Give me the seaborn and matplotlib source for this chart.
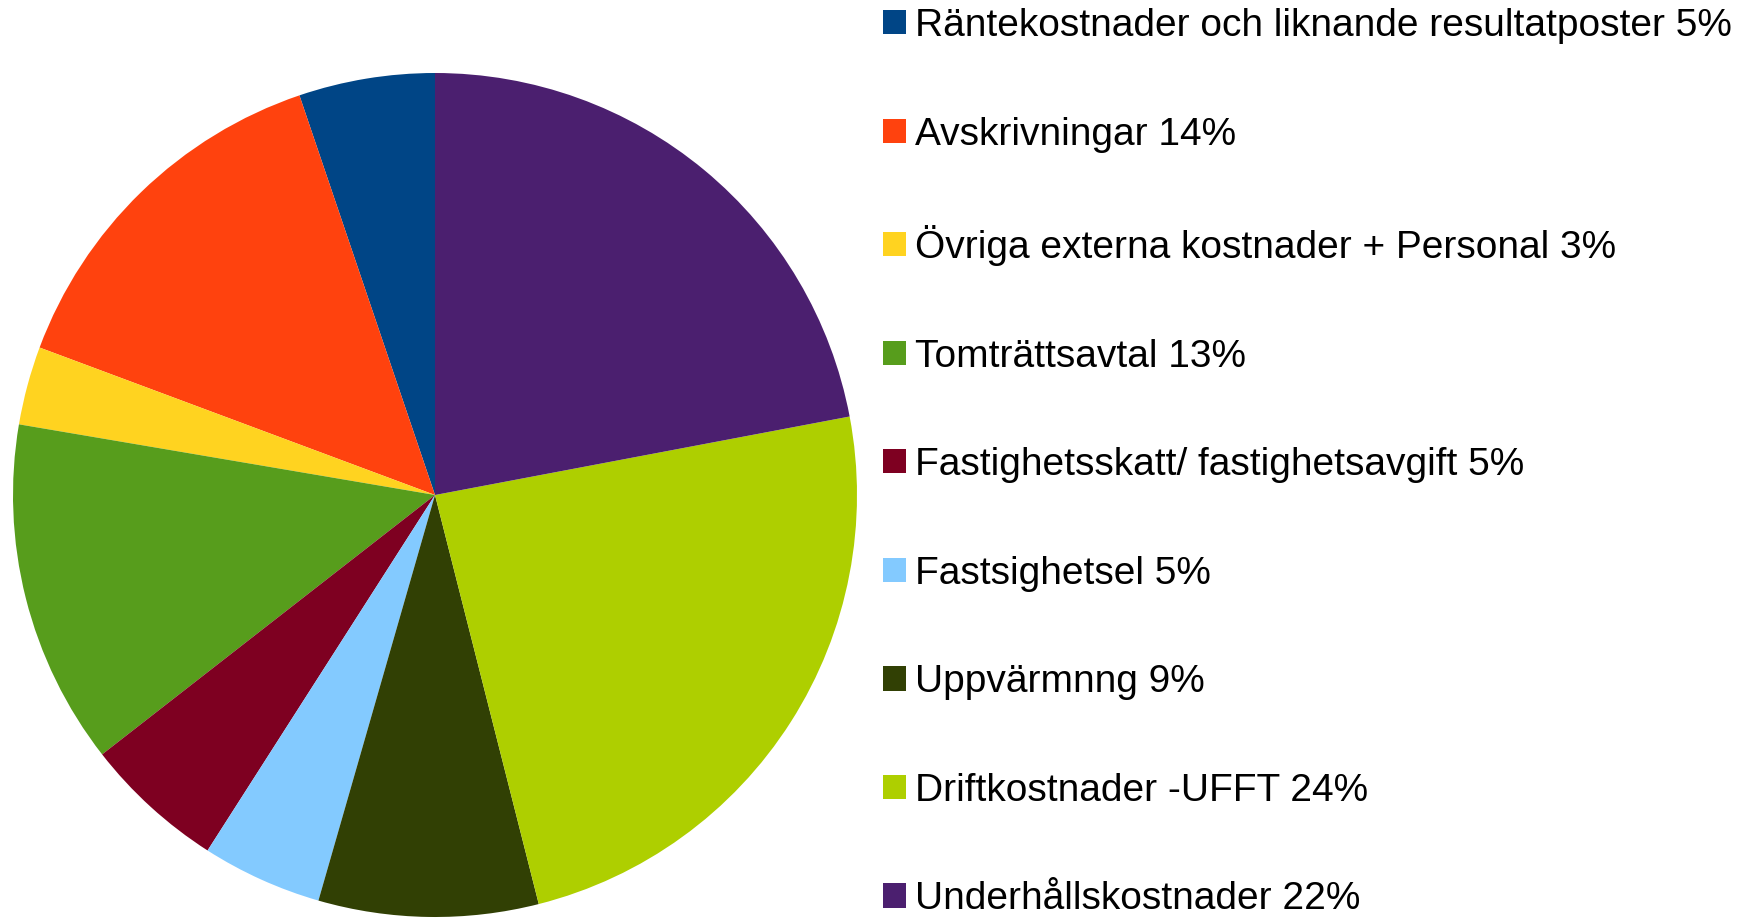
import matplotlib
matplotlib.use("Agg")
import matplotlib.pyplot as plt
import seaborn as sns

labels = [
    "Räntekostnader och liknande resultatposter 5%",
    "Avskrivningar 14%",
    "Övriga externa kostnader + Personal 3%",
    "Tomträttsavtal 13%",
    "Fastighetsskatt/ fastighetsavgift 5%",
    "Fastsighetsel 5%",
    "Uppvärmnng 9%",
    "Driftkostnader -UFFT 24%",
    "Underhållskostnader 22%",
]
values = [5.2, 14.1, 3.0, 13.2, 5.4, 4.6, 8.4, 24.0, 22.0]
colors = ["#004586", "#ff420e", "#ffd320", "#579d1c", "#7e0021",
          "#83caff", "#314004", "#aecf00", "#4b1f6f"]

sns.set_theme(style="white")
plt.rcParams["font.family"] = ["Liberation Sans", "DejaVu Sans"]

W, H = 1746, 918
fig = plt.figure(figsize=(W / 100, H / 100), dpi=100)
fig.patch.set_facecolor("white")

cx, cy, r = 435, 495, 422
ax = fig.add_axes([(cx - r) / W, (H - cy - r) / H, 2 * r / W, 2 * r / H])
wedges, _ = ax.pie(values, colors=colors, startangle=90, counterclock=True,
                   wedgeprops=dict(linewidth=0))
ax.set_aspect("equal")
ax.set_xlim(-1, 1)
ax.set_ylim(-1, 1)
ax.axis("off")

leg = fig.legend(wedges, labels, loc="upper left",
                 bbox_to_anchor=(883 / W, 1 - 8 / H),
                 frameon=False, fontsize=28, labelcolor="black",
                 handlelength=0.58, handleheight=0.58, handletextpad=0.25,
                 labelspacing=1.865, borderpad=0, borderaxespad=0)

fig.savefig("out.png", dpi=100, facecolor="white")
